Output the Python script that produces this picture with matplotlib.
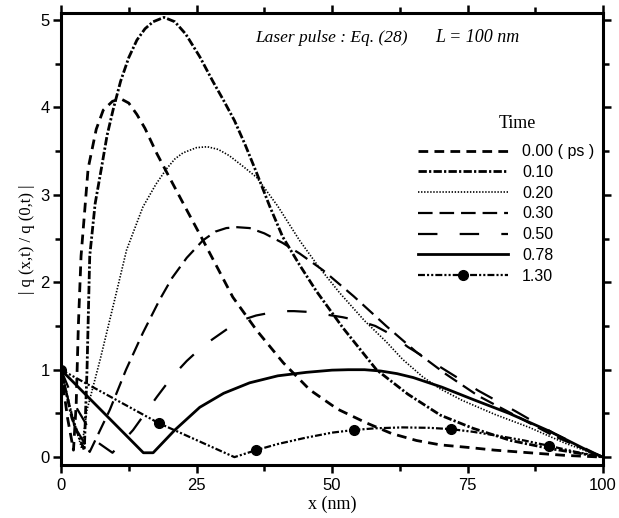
import matplotlib
matplotlib.use("Agg")
import matplotlib.pyplot as plt

plt.rcParams['lines.scale_dashes'] = False

# times (ps) and curves |q(x,t)/q(0,t)|
times = ['0.00 ( ps )', '0.10', '0.20', '0.30', '0.50', '0.78', '1.30']

x_000 = [0, 1.2, 2.3, 2.8, 3.2, 3.7, 5.0, 6.5, 7.8, 9.5, 11, 12.5, 14, 15.5, 17.7, 20, 23, 26.2, 29, 31.7, 36.1, 41, 45.9, 51, 56.4, 61, 65.6, 70, 75.3, 80, 86.4, 93, 100]
q_000 = [1, 0.45, 0.08, 0.6, 1.5, 2.3, 3.3, 3.75, 3.97, 4.07, 4.1, 4.05, 3.92, 3.76, 3.47, 3.2, 2.85, 2.48, 2.15, 1.83, 1.45, 1.08, 0.77, 0.55, 0.39, 0.27, 0.19, 0.14, 0.11, 0.08, 0.05, 0.02, 0]

x_010 = [0, 2.0, 4.3, 4.8, 5.3, 6.3, 7.5, 8.5, 9.6, 11, 12.5, 14, 15.5, 17, 19, 21, 23, 25.6, 28, 30, 32, 34, 36.1, 38.5, 40.9, 44, 47.1, 52, 58.2, 64, 70, 76, 83, 90, 100]
q_010 = [1, 0.45, 0.08, 1.0, 2.3, 2.9, 3.32, 3.68, 3.97, 4.3, 4.57, 4.77, 4.9, 4.98, 5.03, 4.98, 4.84, 4.58, 4.3, 4.08, 3.85, 3.57, 3.25, 2.87, 2.52, 2.2, 1.9, 1.48, 1.0, 0.72, 0.48, 0.33, 0.19, 0.1, 0]

x_020 = [0, 2.0, 3.8, 4.8, 7.2, 9.9, 12.1, 15.1, 17.5, 19.5, 21, 22.5, 25, 27, 29, 31, 33.5, 36.1, 40, 44, 47.5, 51.4, 56, 60, 63, 66.7, 70, 74, 80, 86.4, 93, 100]
q_020 = [1, 0.5, 0.1, 0.54, 1.11, 1.8, 2.37, 2.86, 3.12, 3.3, 3.41, 3.48, 3.54, 3.55, 3.52, 3.45, 3.33, 3.2, 2.87, 2.48, 2.18, 1.88, 1.56, 1.32, 1.12, 0.92, 0.78, 0.65, 0.49, 0.34, 0.16, 0]

x_030 = [0, 2.5, 5.3, 9, 12, 15.1, 18.2, 20.5, 23.2, 26.2, 28.5, 30.5, 32.5, 34.8, 37.5, 40.9, 44, 48.3, 54, 60, 65.6, 71, 77, 84, 91, 100]
q_030 = [1, 0.35, 0.06, 0.54, 1.0, 1.42, 1.8, 2.05, 2.28, 2.48, 2.58, 2.62, 2.63, 2.62, 2.56, 2.45, 2.33, 2.14, 1.84, 1.5, 1.2, 0.95, 0.7, 0.47, 0.24, 0]

x_050 = [0, 3, 6.5, 9.5, 13.3, 17.7, 20.5, 23.2, 26, 28, 31, 33.5, 36, 38.5, 41, 43, 46, 48, 52, 55, 58, 61, 64, 70, 77, 84, 91, 100]
q_050 = [1, 0.55, 0.18, 0.05, 0.31, 0.69, 0.92, 1.1, 1.26, 1.35, 1.48, 1.57, 1.62, 1.65, 1.67, 1.67, 1.66, 1.64, 1.6, 1.56, 1.5, 1.4, 1.26, 1.03, 0.76, 0.52, 0.27, 0]

x_078 = [0, 15.2, 17, 21, 25.6, 30, 34.8, 40, 45.3, 50, 53, 56, 59, 62, 65, 70.3, 76, 82.7, 90, 98, 100]
q_078 = [1, 0.05, 0.05, 0.31, 0.57, 0.73, 0.85, 0.93, 0.97, 0.995, 1.0, 1.0, 0.985, 0.955, 0.91, 0.8, 0.66, 0.5, 0.3, 0.05, 0]

x_130 = [0, 18, 32, 36, 40, 45, 50, 54, 58, 63, 68, 72, 76, 81, 85.5, 90, 95, 100]
q_130 = [1, 0.39, 0.0, 0.08, 0.15, 0.22, 0.28, 0.31, 0.33, 0.34, 0.335, 0.32, 0.29, 0.24, 0.19, 0.13, 0.06, 0]
marks_130 = [0, 1, 3, 7, 11, 15]

fig = plt.figure(figsize=(6.19, 5.18), dpi=100)
ax = fig.add_axes([61/619, 1-465/518, (603-61)/619, (465-13)/518])

ax.plot(x_000, q_000, color='black', lw=2.0, dashes=(7, 4.5), label=times[0])
ax.plot(x_010, q_010, color='black', lw=2.0, dashes=(6, 1.6, 1.6, 1.6), label=times[1])
ax.plot(x_020, q_020, color='black', lw=1.2, dashes=(1, 1.2), label=times[2])
ax.plot(x_030, q_030, color='black', lw=1.6, dashes=(10.5, 5), label=times[3])
ax.plot(x_050, q_050, color='black', lw=1.6, dashes=(14, 16), label=times[4])
ax.plot(x_078, q_078, color='black', lw=2.0, label=times[5])
ax.plot(x_130, q_130, color='black', lw=1.6, dashes=(5, 1.5, 1.5, 1.5, 1.5, 1.5),
        marker='o', markersize=7, markevery=marks_130, label=times[6])

ax.set_xlim(0, 100)
ax.set_ylim(-0.09, 5.08)
ax.set_xticks([0, 25, 50, 75, 100])
ax.set_xticks([12.5, 37.5, 62.5, 87.5], minor=True)
ax.set_yticks([0, 1, 2, 3, 4, 5])
ax.set_yticks([0.5, 1.5, 2.5, 3.5, 4.5], minor=True)
ax.tick_params(which='both', direction='out', top=True, right=True, width=1.8)
ax.tick_params(which='major', length=6, labelsize=12)
ax.tick_params(which='minor', length=4)
ax.tick_params(axis='y', pad=2)
for lab in ax.get_xticklabels() + ax.get_yticklabels():
    lab.set_family('Liberation Sans')
for s in ax.spines.values():
    s.set_linewidth(2.2)

ax.set_xlabel('x (nm)', family='Liberation Serif', fontsize=13, labelpad=2)
ax.set_ylabel('| q (x,t) / q (0,t) |', family='Liberation Serif', fontsize=12, labelpad=4)

ax.text(0.358, 0.945, 'Laser pulse : Eq. (28)', transform=ax.transAxes, family='Liberation Serif',
        style='italic', fontsize=12.5, ha='left', va='center')
ax.text(0.69, 0.945, 'L = 100 nm', transform=ax.transAxes, family='Liberation Serif',
        style='italic', fontsize=13, ha='left', va='center')

fig.text(517/619, 1-123/518, 'Time', family='Liberation Serif', fontsize=13, ha='center', va='center')
ax.legend(loc='upper left', bbox_to_anchor=(415/619, 1-141/518), bbox_transform=fig.transFigure,
          frameon=False, handlelength=5.6, handletextpad=0.9,
          labelspacing=0.36, borderaxespad=0, borderpad=0.2,
          prop={'family': 'Liberation Sans', 'size': 11.5})

fig.savefig('out.png', dpi=100)
